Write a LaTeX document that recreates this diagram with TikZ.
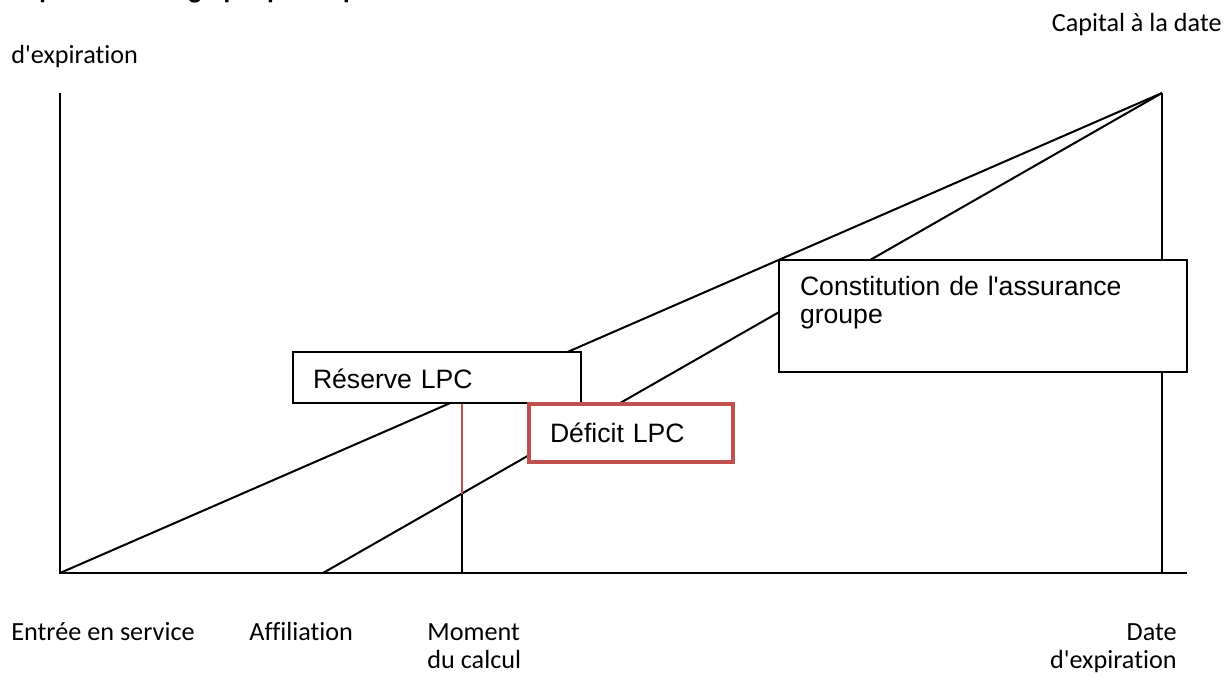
\documentclass[tikz,border=0pt]{standalone}
\usepackage{fontspec}
\setmainfont{Carlito}
\newfontfamily\calib[Ligatures=NoCommon]{Carlito}
\newfontfamily\arialf{Liberation Sans}
\definecolor{boxred}{HTML}{C0504D}
\begin{document}
\begin{tikzpicture}[x=0.5pt,y=-0.5pt,
  axis/.style={line width=1pt,black},
  lbl/.style={inner sep=0pt,font=\calib\fontsize{13.1}{15}\selectfont},
  boxnode/.style={draw,line width=1pt,fill=white,inner ysep=0pt,outer sep=0pt,
    anchor=north west,align=left,font=\arialf\fontsize{13.3}{14}\selectfont}]
\useasboundingbox (0,0) rectangle (1225,677);
% title (cut off at the top)
\node[lbl,anchor=base west,font=\calib\bfseries\fontsize{13.5}{16}\selectfont] (title) at (10.5,-2) {Représentation graphique du problème};
% coordinates
\coordinate (O) at (60,573);
\coordinate (Xe) at (1187,573);
\coordinate (Yt) at (60,93);
\coordinate (T) at (1162,93);
\coordinate (Tb) at (1162,573);
\coordinate (A) at (323,573);
\coordinate (M) at (462,573);
\coordinate (Mt) at (462,398);
\coordinate (Mm) at (462,493.5);
% axes and lines
\draw[axis] (Yt) -- (O) -- (Xe);
\draw[axis] (T) -- (Tb);
\draw[axis] (O) -- (T);
\draw[axis] (A) -- (T);
\draw[axis] (M) -- (Mm);
\draw[line width=1pt,boxred] (Mm) -- (Mt);
% boxes
\node[boxnode,inner xsep=10pt,text width=124pt,text height=18pt,text depth=7.5pt] (res) at (293,352) {Réserve LPC};
\node[boxnode,draw=boxred,line width=2pt,inner xsep=10.5pt,text width=81pt,text height=19pt,text depth=10pt] (def) at (529,404) {Déficit LPC};
\node[boxnode,inner xsep=10.5pt,text width=183pt,text height=17.5pt,text depth=38.5pt] (cons) at (779,260) {Constitution de l'assurance\\groupe};
% labels
\node[lbl,anchor=base west] (yl) at (11,63) {d'expiration};
\node[lbl,anchor=base east] (cap) at (1222,31) {Capital à la date};
\node[lbl,anchor=base west] (ent) at (11,640) {Entrée en service};
\node[lbl,anchor=base west] (aff) at (249,640) {Affiliation};
\node[lbl,anchor=base west] (mom) at (427,640) {Moment};
\node[lbl,anchor=base west] (calc) at (427,668) {du calcul};
\node[lbl,anchor=base east] (date) at (1177,640) {Date};
\node[lbl,anchor=base east] (exp) at (1177,668) {d'expiration};
\end{tikzpicture}
\end{document}
